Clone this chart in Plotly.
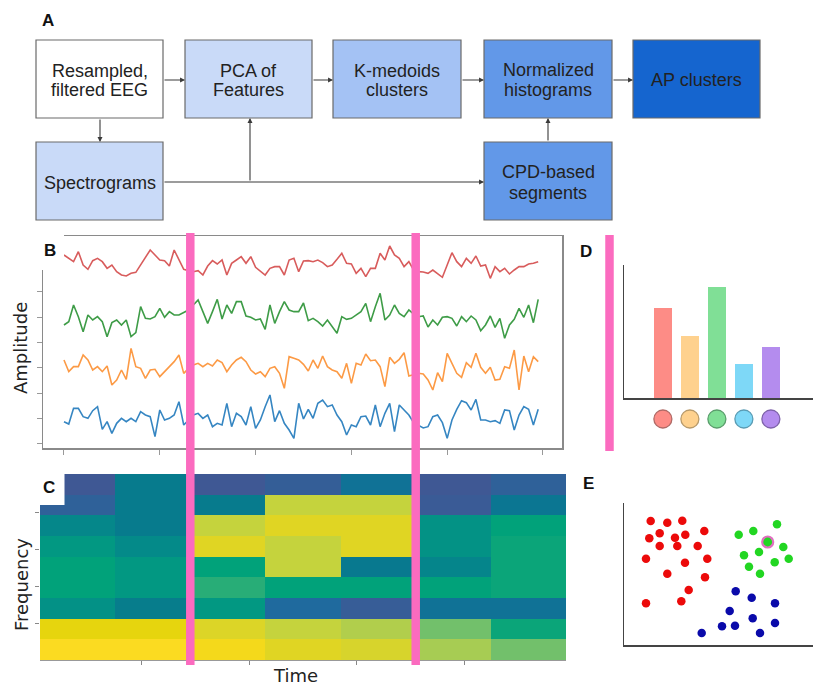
import plotly.graph_objects as go

W, H = 814, 687
def fx(px): return px / W
def fy(py): return 1 - py / H

red_ch = [45,55,65,35,75,88,62,55,65,85,75,95,105,108,100,97,75,50,30,45,60,62,78,30,60,
          88,92,95,92,105,78,62,72,60,105,70,60,50,70,50,82,95,105,85,80,80,105,60,55,95,
          63,62,65,60,68,80,75,58,40,70,72,100,85,110,85,85,40,60,18,45,55,80,65,90,95,
          96,100,90,100,112,75,38,65,80,55,70,48,78,75,115,80,95,85,102,90,80,80,72,70,65]
green_ch = [255,245,195,230,275,225,240,230,245,290,248,240,255,240,290,278,200,235,237,230,205,232,215,225,225,
            218,210,195,180,215,250,215,178,237,195,220,185,185,228,232,240,237,268,195,250,215,185,210,215,215,
            189,242,235,245,258,240,260,280,230,238,235,225,215,190,245,200,160,240,225,195,220,230,210,222,230,
            228,261,240,255,232,230,235,258,230,245,228,240,272,255,228,262,235,295,255,238,205,232,195,248,178]
orange_ch = [360,395,380,380,345,360,390,380,395,378,435,420,390,418,325,380,385,415,390,388,410,395,380,365,345,
             400,385,375,370,380,370,378,360,368,395,375,360,352,365,390,402,395,410,385,380,400,445,350,355,360,
             373,393,360,385,348,380,390,395,415,370,430,370,375,342,362,360,380,440,352,370,358,338,408,405,400,
             402,420,450,398,425,340,370,400,412,368,382,340,382,400,382,420,418,380,385,330,450,348,395,350,365]
blue_ch = [545,552,505,505,530,535,512,500,568,545,580,550,535,545,535,545,515,525,530,590,510,540,535,525,485,
           555,540,525,520,535,525,560,550,555,490,560,520,530,555,500,565,540,500,465,545,512,550,570,595,490,
           537,508,535,490,480,500,495,525,545,585,555,560,530,528,555,495,560,520,490,575,495,510,525,548,555,
           564,560,530,525,548,595,540,508,482,488,510,478,540,540,545,542,550,510,512,570,525,500,508,555,508]
samples = list(range(100))
b_xticks = [0, 20, 40, 60, 80, 100]
b_yticks = [155, 231, 307, 383, 459, 535, 611]

# ---------------- Panel C data ----------------
time_bins = [0.40, 1.10, 1.80, 2.50, 3.20, 3.90, 4.60]
freq_bins = [0.28, 0.84, 1.40, 1.96, 2.52, 3.08, 3.64, 4.20, 4.76]
spec_rows_top_to_bottom = [
    [0.00, 0.30, 0.00, 0.04, 0.20, 0.00, 0.06],
    [0.06, 0.30, 0.30, 0.88, 0.88, 0.02, 0.24],
    [0.40, 0.30, 0.88, 0.94, 0.94, 0.48, 0.60],
    [0.52, 0.42, 0.94, 0.88, 0.94, 0.48, 0.62],
    [0.60, 0.52, 0.60, 0.88, 0.28, 0.38, 0.62],
    [0.60, 0.52, 0.68, 0.60, 0.60, 0.60, 0.62],
    [0.47, 0.32, 0.52, 0.12, 0.03, 0.20, 0.20],
    [0.97, 0.97, 0.93, 0.88, 0.84, 0.75, 0.62],
    [1.00, 1.00, 0.99, 0.94, 0.92, 0.82, 0.75],
]
change_points = [1.45, 3.55]

# ---------------- Panel D data ----------------
clusters = [1, 2, 3, 4, 5]
hist_values = [90, 62, 111, 34, 51]
hist_colors = ['#fd8c86', '#fed18e', '#80df96', '#7ed8f7', '#b48cee']
circle_edges = ['#b06a66', '#b89a6a', '#5a9e6c', '#5a9cb4', '#7e62aa']

# ---------------- Panel E data ----------------
red_x = [26.7,43.3,58.3,35.7,25.3,51,61.3,80.3,35.7,53.3,73.7,22,61,83.3,43.3,81,64.7,57.3,22]
red_y = [124,122.3,124.3,111.7,106.7,107.3,110.3,114,99,99,99,86.3,82.3,86.3,71.3,67.7,55,43.7,41.7]
green_x = [114.7,129.3,153,135,120,159.3,164.7,125,150.7,136]
green_y = [110.3,114,120.7,93,89.7,98,86.3,78.3,82.7,71.3]
medoid_x = [143.7]
medoid_y = [103]
blue_x = [111.7,127.7,151,105.7,128.7,98,111,151,77.7,136]
blue_y = [53.7,47.3,41.7,34,26.7,18.7,19.3,22,12,12]

fig = go.Figure()

# Panel B lines
for vals, col in [(red_ch, '#d85c5c'), (green_ch, '#3e9c47'), (orange_ch, '#fc9a45'), (blue_ch, '#3686c2')]:
    fig.add_trace(go.Scatter(x=samples, y=vals, mode='lines', line=dict(color=col, width=1.6),
                             xaxis='x', yaxis='y', showlegend=False, hoverinfo='skip'))

# Panel C heatmap
cscale = [[0.00,'#3f5894'],[0.12,'#1f6a9e'],[0.22,'#0c7494'],[0.30,'#077b8d'],[0.40,'#05878a'],
          [0.50,'#029584'],[0.60,'#01a27a'],[0.68,'#28ad77'],[0.75,'#72c06b'],[0.82,'#a7cc53'],
          [0.88,'#c5d33d'],[0.94,'#e0d523'],[0.97,'#e6d50e'],[1.00,'#fbdb21']]
fig.add_trace(go.Heatmap(x=time_bins, y=freq_bins, z=spec_rows_top_to_bottom[::-1],
                         colorscale=cscale, zmin=0, zmax=1, showscale=False,
                         xaxis='x2', yaxis='y2', hoverinfo='skip'))

# Panel D bars + cluster circles (circles on their own strip axis below)
fig.add_trace(go.Bar(x=clusters, y=hist_values, marker=dict(color=hist_colors, line=dict(width=0)),
                     width=0.67, xaxis='x3', yaxis='y3', showlegend=False, hoverinfo='skip'))
fig.add_trace(go.Scatter(x=clusters, y=[0]*len(clusters), mode='markers', cliponaxis=False,
                         marker=dict(size=18, color=hist_colors, line=dict(color=circle_edges, width=1.3)),
                         xaxis='x3', yaxis='y5', showlegend=False, hoverinfo='skip'))

# Panel E scatter
for xs, ys, col in [(red_x, red_y, '#ec0a0a'), (green_x, green_y, '#22d622'), (blue_x, blue_y, '#0a0aaa')]:
    fig.add_trace(go.Scatter(x=xs, y=ys, mode='markers', marker=dict(size=8.5, color=col, line=dict(width=0)),
                             xaxis='x4', yaxis='y4', showlegend=False, hoverinfo='skip'))
fig.add_trace(go.Scatter(x=medoid_x, y=medoid_y, mode='markers',
                         marker=dict(size=11, color='#22d622', line=dict(color='#e070c0', width=2.2)),
                         xaxis='x4', yaxis='y4', showlegend=False, hoverinfo='skip'))

shapes = []
annotations = []

# Panel A flowchart boxes
boxes = [
    (36, 40, 163, 118, '#ffffff', ['Resampled,', 'filtered EEG'], [71, 90]),
    (185, 40, 312, 118, '#c9daf8', ['PCA of', 'Features'], [71, 90]),
    (333, 40, 461, 118, '#a4c2f4', ['K-medoids', 'clusters'], [71, 90]),
    (484, 40, 612, 118, '#6298e8', ['Normalized', 'histograms'], [70.5, 90]),
    (633, 40, 760, 118, '#1565cf', ['AP clusters'], [80]),
    (36, 142, 163, 220, '#c9daf8', ['Spectrograms'], [183]),
    (484, 142, 612, 220, '#6298e8', ['CPD-based', 'segments'], [172.5, 192.5]),
]
for x0, y0, x1, y1, fill, lines, ys in boxes:
    shapes.append(dict(type='rect', xref='paper', yref='paper', x0=fx(x0), x1=fx(x1), y0=fy(y1), y1=fy(y0),
                       fillcolor=fill, line=dict(color='#6a6a6a', width=1.2), layer='above'))
    for t, yy in zip(lines, ys):
        annotations.append(dict(text=t, xref='paper', yref='paper', x=fx((x0 + x1) / 2), y=fy(yy),
                                xanchor='center', yanchor='middle', showarrow=False, borderpad=0,
                                font=dict(family='Liberation Sans, Arial', size=18, color='#222222')))

arrows = [
    (185, 80, -22, 0), (333, 80, -21, 0), (484, 80, -23, 0), (633, 80, -21, 0),
    (100, 142, 0, -24), (484, 182, -321, 0), (250, 118, 0, 64), (548, 118, 0, 24),
]
for hx, hy, ax, ay in arrows:
    annotations.append(dict(text='', xref='paper', yref='paper', x=fx(hx), y=fy(hy), ax=ax, ay=ay,
                            showarrow=True, arrowhead=2, arrowsize=0.9, arrowwidth=1.1,
                            arrowcolor='#3a3a3a', standoff=0, startstandoff=0))

# white corner covers behind panel letters B and C
shapes.append(dict(type='rect', xref='paper', yref='paper', x0=fx(34), x1=fx(64), y0=fy(270), y1=fy(232),
                   fillcolor='white', line=dict(width=0), layer='above'))
shapes.append(dict(type='rect', xref='paper', yref='paper', x0=fx(34), x1=fx(64.5), y0=fy(505), y1=fy(470),
                   fillcolor='white', line=dict(width=0), layer='above'))

# pink change-point lines
for cp in change_points:
    shapes.append(dict(type='line', xref='x2', yref='paper', x0=cp, x1=cp, y0=fy(665), y1=fy(233),
                       line=dict(color='#fb6bbf', width=8.5), layer='above'))
shapes.append(dict(type='line', xref='paper', yref='paper', x0=fx(609.5), x1=fx(609.5), y0=fy(451), y1=fy(235),
                   line=dict(color='#fb6bbf', width=8.5), layer='above'))

# panel letters
for t, px, py in [('A', 48, 21), ('B', 50, 251), ('C', 49, 488), ('D', 586, 252), ('E', 588, 483)]:
    annotations.append(dict(text='<b>%s</b>' % t, xref='paper', yref='paper', x=fx(px), y=fy(py),
                            xanchor='center', yanchor='middle', showarrow=False,
                            font=dict(family='Liberation Sans, Arial', size=17, color='#111111')))

# axis titles
annotations.append(dict(text='Amplitude', xref='paper', yref='paper', x=fx(20), y=fy(348), textangle=-90,
                        xanchor='center', yanchor='middle', showarrow=False,
                        font=dict(family='DejaVu Sans', size=18, color='#222222')))
annotations.append(dict(text='Frequency', xref='paper', yref='paper', x=fx(21), y=fy(585), textangle=-90,
                        xanchor='center', yanchor='middle', showarrow=False,
                        font=dict(family='DejaVu Sans', size=18, color='#222222')))
annotations.append(dict(text='Time', xref='paper', yref='paper', x=fx(295), y=fy(675), borderpad=0,
                        xanchor='center', yanchor='middle', showarrow=False,
                        font=dict(family='DejaVu Sans', size=18, color='#222222')))

common = dict(showgrid=False, zeroline=False, showticklabels=False, fixedrange=True)

fig.update_layout(
    width=W, height=H, margin=dict(l=0, r=0, t=0, b=0),
    paper_bgcolor='white', plot_bgcolor='rgba(0,0,0,0)', showlegend=False,
    shapes=shapes, annotations=annotations, bargap=0,
    xaxis=dict(domain=[fx(43), fx(562)], range=[-4.38, 103.97], tickvals=b_xticks, ticks='outside',
               ticklen=5, tickcolor='#999', showline=True, mirror=True, linecolor='#8a8a8a', linewidth=1.5,
               anchor='y', **common),
    yaxis=dict(domain=[fy(448), fy(236)], range=[624, -12], tickvals=b_yticks, ticks='outside',
               ticklen=5, tickcolor='#999', showline=True, mirror=True, linecolor='#8a8a8a', linewidth=1.5,
               anchor='x', **common),
    xaxis2=dict(domain=[fx(40), fx(566)], range=[0.05, 4.95], tickvals=[1, 2, 3, 4], ticks='outside',
                ticklen=4, tickcolor='#888', showline=True, linecolor='#999', linewidth=1, anchor='y2', **common),
    yaxis2=dict(domain=[fy(660), fy(474)], range=[0, 5.04], tickvals=[1, 2, 3, 4], ticks='outside',
                ticklen=4, tickcolor='#888', showline=False, anchor='x2', **common),
    xaxis3=dict(domain=[fx(624), fx(813)], range=[-0.44, 6.56], showline=True, linecolor='#444',
                linewidth=1.5, anchor='y3', **common),
    yaxis3=dict(domain=[fy(398), fy(265)], range=[0, 133], showline=True, linecolor='#444',
                linewidth=1.5, anchor='x3', **common),
    yaxis5=dict(domain=[fy(431), fy(407)], range=[-1, 1], showline=False, visible=False,
                anchor='x3', **common),
    xaxis4=dict(domain=[fx(624), fx(813)], range=[0, 189], showline=True, linecolor='#444',
                linewidth=1.5, anchor='y4', **common),
    yaxis4=dict(domain=[fy(645), fy(503)], range=[0, 142], showline=True, linecolor='#444',
                linewidth=1.5, anchor='x4', **common),
)

fig.write_html("out.html", config={'displayModeBar': False, 'staticPlot': True},
               post_script="document.body.style.margin='0px';document.body.style.overflow='hidden';")
